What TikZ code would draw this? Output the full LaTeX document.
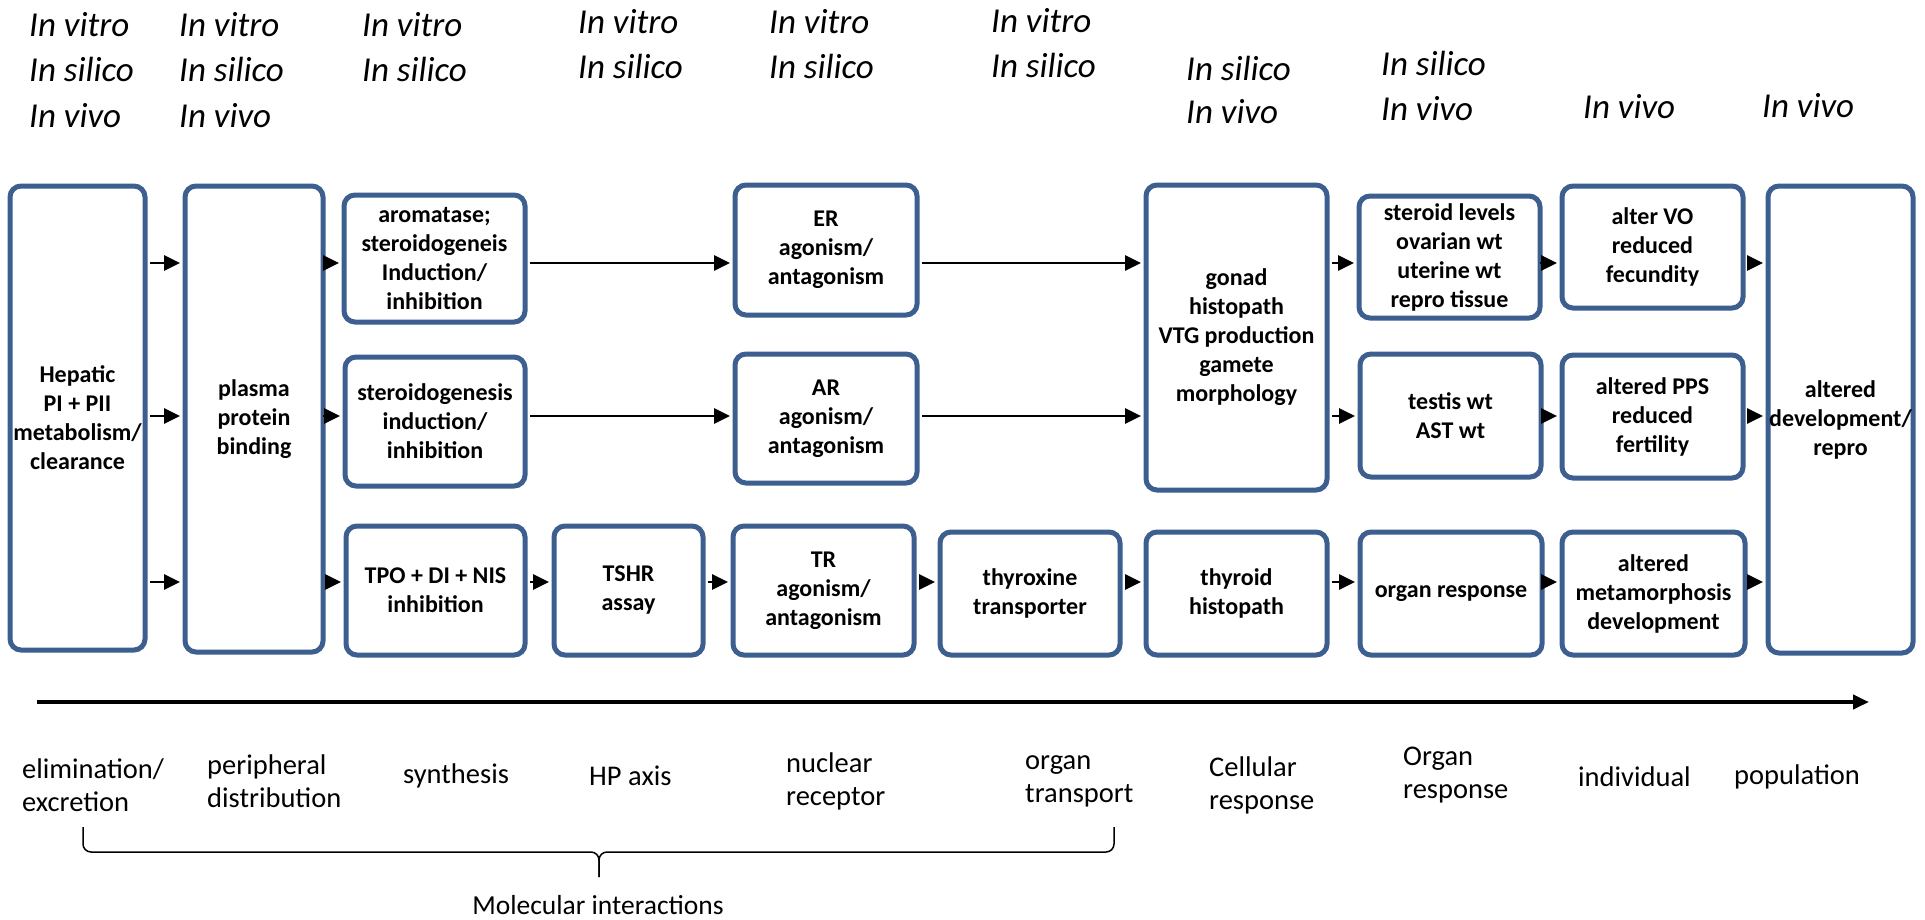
\documentclass[tikz,border=0pt]{standalone}
\usepackage{fontspec}
\setmainfont{Carlito}
\usetikzlibrary{arrows.meta}
\definecolor{boxblue}{RGB}{60,95,143}

\begin{document}
\begin{tikzpicture}[
  x=1pt, y=-1pt,
  every node/.style={align=center},
  box/.style={draw=boxblue, line width=5pt, rounded corners=11pt,
              fill=white, inner sep=1pt,
              font=\bfseries\fontsize{24}{29}\selectfont},
  arr/.style={-{Triangle[length=16pt, width=15pt]}, line width=2.7pt,
              shorten >=2.5pt, shorten <=2.5pt},
  axarr/.style={-{Triangle[length=16pt, width=14pt]}, line width=4pt},
  meth/.style={anchor=base west, inner sep=0pt,
               font=\itshape\fontsize{35}{46}\selectfont},
  lvl/.style={anchor=west, inner sep=0pt, align=left,
              font=\fontsize{28.5}{33}\selectfont},
  brc/.style={line width=1.5pt, rounded corners=8pt}
]
  \fill[white] (0,0) rectangle (1925,919);
  \useasboundingbox (0,0) rectangle (1925,919);

  % methods above each column
  \foreach \t/\x/\y [count=\i] in {
      In vitro/29/36, In silico/29/81, In vivo/29/127,
      In vitro/179/36, In silico/179/81, In vivo/179/127,
      In vitro/362/36, In silico/362/81,
      In vitro/578/33, In silico/578/78,
      In vitro/769/33, In silico/769/78,
      In vitro/991/32, In silico/991/77,
      In silico/1186/80, In vivo/1186/123,
      In silico/1381/75, In vivo/1381/120,
      In vivo/1583/118, In vivo/1762/117}
    \node[meth] (m\i) at (\x,\y) {\t};

  \node[box, minimum width=135, minimum height=464] (hep)  at (77.5,418)
        {Hepatic\\PI + PII\\metabolism/\\clearance};
  \node[box, minimum width=138, minimum height=466] (pl)   at (254,419)
        {plasma\\protein\\binding};

  \node[box, minimum width=181, minimum height=127] (aro)  at (434.5,258.5)
        {aromatase;\\steroidogeneis\\Induction/\\inhibition};
  \node[box, minimum width=180, minimum height=129] (ster) at (435,421.5)
        {steroidogenesis\\induction/\\inhibition};
  \node[box, minimum width=179, minimum height=129] (tpo)  at (435.5,590.5)
        {TPO + DI + NIS\\inhibition};
  \node[box, minimum width=149, minimum height=129] (tshr) at (628.5,590.5)
        {TSHR\\assay};

  \node[box, minimum width=182, minimum height=130] (er)   at (826,250)
        {ER\\agonism/\\antagonism};
  \node[box, minimum width=182, minimum height=129] (ar)   at (826,418.5)
        {AR\\agonism/\\antagonism};
  \node[box, minimum width=181, minimum height=129] (tr)   at (823.5,590.5)
        {TR\\agonism/\\antagonism};
  \node[box, minimum width=180, minimum height=123] (thx)  at (1030,593.5)
        {thyroxine\\transporter};

  \node[box, minimum width=181, minimum height=305] (gon)  at (1236.5,337.5)
        {gonad\\histopath\\VTG production\\gamete\\morphology};
  \node[box, minimum width=181, minimum height=123] (thy)  at (1236.5,593.5)
        {thyroid\\histopath};

  \node[box, minimum width=181, minimum height=122] (stl)  at (1449.5,257)
        {steroid levels\\ovarian wt\\uterine wt\\repro tissue};
  \node[box, minimum width=181, minimum height=123] (tes)  at (1450.5,415.5)
        {testis wt\\AST wt};
  \node[box, minimum width=182, minimum height=123] (org)  at (1451,593.5)
        {organ response};

  \node[box, minimum width=181, minimum height=122] (avo)  at (1652.5,247)
        {alter VO\\reduced\\fecundity};
  \node[box, minimum width=181, minimum height=123] (pps)  at (1652.5,416.5)
        {altered PPS\\reduced\\fertility};
  \node[box, minimum width=183, minimum height=123] (met)  at (1653.5,593.5)
        {altered\\metamorphosis\\development};

  \node[box, minimum width=145, minimum height=467, inner xsep=0pt] (dev) at (1840.5,419.5)
        {altered\\development/\\repro};

  % arrow rows
  \coordinate (ya) at (0,263);
  \coordinate (yb) at (0,416);
  \coordinate (yc) at (0,582);

  \draw[arr] (hep.east |- ya) -- (pl.west |- ya);
  \draw[arr] (hep.east |- yb) -- (pl.west |- yb);
  \draw[arr] (hep.east |- yc) -- (pl.west |- yc);
  \draw[arr] (pl.east |- ya) -- (aro.west |- ya);
  \draw[arr] (pl.east |- yb) -- (ster.west |- yb);
  \draw[arr] (pl.east |- yc) -- (tpo.west |- yc);
  \draw[arr] (aro.east |- ya) -- (er.west |- ya);
  \draw[arr] (ster.east |- yb) -- (ar.west |- yb);
  \draw[arr] (tpo.east |- yc) -- (tshr.west |- yc);
  \draw[arr] (tshr.east |- yc) -- (tr.west |- yc);
  \draw[arr] (er.east |- ya) -- (gon.west |- ya);
  \draw[arr] (ar.east |- yb) -- (gon.west |- yb);
  \draw[arr] (tr.east |- yc) -- (thx.west |- yc);
  \draw[arr] (thx.east |- yc) -- (thy.west |- yc);
  \draw[arr] (gon.east |- ya) -- (stl.west |- ya);
  \draw[arr] (gon.east |- yb) -- (tes.west |- yb);
  \draw[arr] (thy.east |- yc) -- (org.west |- yc);
  \draw[arr] (stl.east |- ya) -- (avo.west |- ya);
  \draw[arr] (tes.east |- yb) -- (pps.west |- yb);
  \draw[arr] (org.east |- yc) -- (met.west |- yc);
  \draw[arr] (avo.east |- ya) -- (dev.west |- ya);
  \draw[arr] (pps.east |- yb) -- (dev.west |- yb);
  \draw[arr] (met.east |- yc) -- (dev.west |- yc);

  % level axis
  \coordinate (axs) at (37,702);
  \coordinate (axe) at (1869,702);
  \draw[axarr] (axs) -- (axe);

  \node[lvl] (elim) at (22,785)   {elimination/\\excretion};
  \node[lvl] (peri) at (207,781)  {peripheral\\distribution};
  \node[lvl] (syn)  at (403,776)  {synthesis};
  \node[lvl] (hpa)  at (589,776)  {HP axis};
  \node[lvl] (nuc)  at (786,781)  {nuclear\\receptor};
  \node[lvl] (otr)  at (1025,781) {organ\\transport};
  \node[lvl] (cel)  at (1209,785) {Cellular\\response};
  \node[lvl] (ors)  at (1403,775) {Organ\\response};
  \node[lvl] (ind)  at (1578,777) {individual};
  \node[lvl] (pop)  at (1734,777) {population};

  % brace under the molecular levels
  \draw[brc] (83,827) -- (83,852) -- (599,852) -- (599,877);
  \draw[brc] (1114,827) -- (1114,852) -- (599,852) -- (599,877);
  \node[font=\fontsize{27.5}{33}\selectfont] (mol) at (598,905) {Molecular interactions};
\end{tikzpicture}
\end{document}
